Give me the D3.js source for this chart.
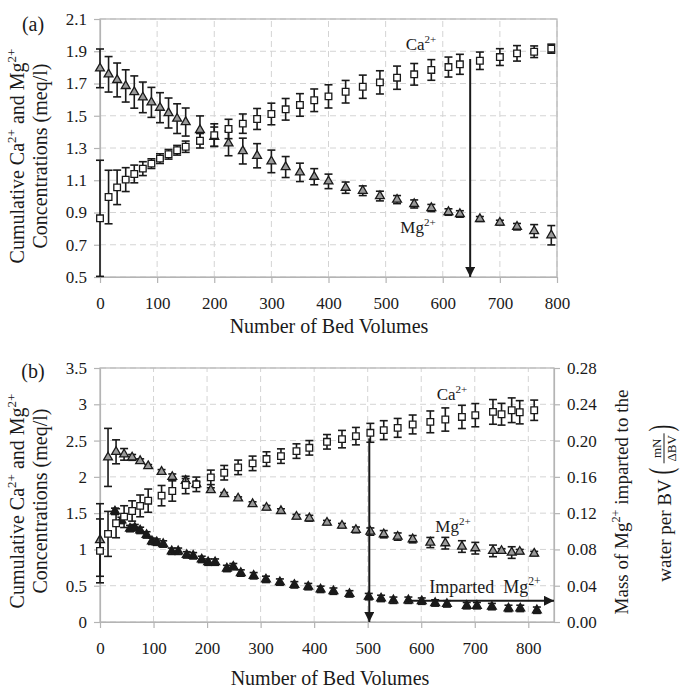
<!DOCTYPE html>
<html><head><meta charset="utf-8">
<script src="https://cdn.jsdelivr.net/npm/d3@7"></script>
<style>body{margin:0;background:#fff} svg, svg text{font-family:"Liberation Serif","Tinos","Times New Roman","DejaVu Serif",serif !important}</style>
</head><body><svg id="c" width="682" height="690"></svg>
<script>
// ---------- Panel (a) data ----------
const bvA = [0,15,30,45,60,75,90,105,120,135,150,175,200,225,250,275,300,325,350,375,400,430,460,490,520,550,580,610,630,665,700,730,760,790];
const caA = [0.864,0.996,1.056,1.104,1.139,1.172,1.203,1.234,1.261,1.286,1.308,1.345,1.38,1.418,1.451,1.48,1.511,1.54,1.567,1.596,1.62,1.649,1.68,1.707,1.736,1.757,1.784,1.802,1.819,1.841,1.864,1.887,1.897,1.916];
const caErrA = [0.36,0.166,0.107,0.074,0.055,0.043,0.03,0.03,0.03,0.03,0.035,0.045,0.07,0.06,0.06,0.065,0.067,0.067,0.07,0.07,0.072,0.07,0.072,0.072,0.072,0.067,0.064,0.062,0.062,0.054,0.052,0.048,0.036,0.028];
const mgA = [1.794,1.757,1.722,1.685,1.647,1.614,1.583,1.55,1.517,1.482,1.461,1.412,1.37,1.329,1.281,1.252,1.217,1.182,1.149,1.122,1.093,1.054,1.035,1.002,0.98,0.953,0.928,0.903,0.891,0.86,0.837,0.812,0.785,0.759];
const mgErrA = [0.12,0.11,0.105,0.1,0.1,0.095,0.093,0.093,0.093,0.092,0.087,0.087,0.06,0.077,0.08,0.075,0.07,0.065,0.057,0.05,0.045,0.035,0.03,0.03,0.025,0.025,0.022,0.02,0.02,0.015,0.015,0.02,0.04,0.06];
const xTicksA = [0,100,200,300,400,500,600,700,800];
const yTicksA = [0.5,0.7,0.9,1.1,1.3,1.5,1.7,1.9,2.1];

// ---------- Panel (b) data ----------
const bvB = [0,15,30,45,60,75,90,115,135,160,180,207,232,258,285,311,338,367,391,424,452,478,505,530,556,584,617,645,676,701,734,750,769,784,811];
const caB = [0.98,1.214,1.361,1.452,1.53,1.6,1.672,1.741,1.805,1.888,1.897,1.993,2.057,2.131,2.186,2.245,2.286,2.355,2.4,2.483,2.52,2.561,2.607,2.644,2.675,2.722,2.758,2.79,2.826,2.85,2.895,2.863,2.918,2.89,2.918];
const caErrB = [0.44,0.31,0.2,0.15,0.14,0.15,0.16,0.14,0.14,0.12,0.1,0.1,0.1,0.1,0.1,0.1,0.1,0.1,0.1,0.1,0.12,0.12,0.13,0.13,0.13,0.13,0.15,0.16,0.16,0.16,0.17,0.15,0.17,0.16,0.14];
const mgB = [1.13,2.268,2.345,2.31,2.268,2.218,2.149,2.07,2.0,1.947,1.9,1.819,1.764,1.704,1.626,1.576,1.53,1.452,1.43,1.37,1.328,1.269,1.246,1.21,1.177,1.141,1.095,1.086,1.04,1.017,0.98,0.98,0.957,0.97,0.943];
const mgErrB = [0.5,0.4,0.165,0.08,0.04,0.03,0.02,0.03,0.04,0.03,0.03,0.03,0.02,0.02,0.03,0.03,0.03,0.03,0.04,0.03,0.03,0.04,0.05,0.05,0.05,0.05,0.07,0.08,0.08,0.08,0.08,0.03,0.08,0.03,0.03];
const bvImp = [28,40,56,65,75,87,97,106,118,134,146,162,174,190,202,215,237,249,263,287,310,336,363,389,412,436,466,502,525,548,576,601,626,648,685,704,732,763,785,816];
const impMg = [0.122,0.112,0.103,0.104,0.101,0.096,0.089,0.088,0.086,0.078,0.078,0.074,0.073,0.069,0.066,0.066,0.059,0.061,0.054,0.051,0.047,0.044,0.041,0.039,0.036,0.034,0.031,0.028,0.026,0.024,0.024,0.023,0.021,0.020,0.018,0.018,0.017,0.015,0.015,0.013];
const impErr = 0.0035;
const xTicksB = [0,100,200,300,400,500,600,700,800];
const yTicksB = [0,0.5,1,1.5,2,2.5,3,3.5];
const y2TicksB = [0,0.04,0.08,0.12,0.16,0.20,0.24,0.28];

const FONT = '"Liberation Serif","Tinos","Times New Roman","DejaVu Serif",serif';
const svg = d3.select("#c").attr("font-family", FONT);
const GRID = "#d4d4d4", AX = "#b4b4b4", INK = "#1a1a1a";

function rich(parent, x, y, parts, size, anchor, rot) {
  const t = parent.append("text").attr("x", x).attr("y", y).attr("font-family", FONT)
    .attr("font-size", size).attr("text-anchor", anchor || "middle").attr("fill", INK);
  if (rot) t.attr("transform", `rotate(${rot},${x},${y})`);
  let shifted = 0;
  parts.forEach(p => {
    const sup = typeof p !== "string";
    const s = t.append("tspan");
    const target = sup ? -size * 0.42 : 0;
    s.attr("dy", target - shifted);
    shifted = target;
    if (sup) s.attr("font-size", size * 0.65).text(p.sup); else s.text(p);
  });
  return t;
}

function styleAxis(a) {
  a.attr("font-family", FONT);
  a.select(".domain").attr("stroke", AX).attr("stroke-width", 1.2);
  a.selectAll(".tick line").attr("stroke", AX).attr("stroke-width", 1.2);
  a.selectAll("text").attr("font-size", 17).attr("fill", INK).attr("font-family", FONT);
}

function frame(g, x, y, xT, yT, yFmt) {
  const [x0, x1] = x.range(), [y0, y1] = y.range();
  g.append("g").selectAll("line").data(yT).join("line")
    .attr("x1", x0).attr("x2", x1).attr("y1", d => y(d)).attr("y2", d => y(d))
    .attr("stroke", GRID).attr("stroke-dasharray", "6,4");
  g.append("g").selectAll("line").data(xT.filter(d => d > 0)).join("line")
    .attr("x1", d => x(d)).attr("x2", d => x(d)).attr("y1", y0).attr("y2", y1)
    .attr("stroke", GRID).attr("stroke-dasharray", "6,4");
  g.append("rect").attr("x", x0).attr("y", y1).attr("width", x1 - x0).attr("height", y0 - y1)
    .attr("fill", "none").attr("stroke", AX).attr("stroke-width", 1.2);
  styleAxis(g.append("g").attr("transform", `translate(0,${y0})`)
    .call(d3.axisBottom(x).tickValues(xT).tickSize(6).tickSizeOuter(0).tickPadding(14).tickFormat(d3.format("d"))));
  styleAxis(g.append("g").attr("transform", `translate(${x0},0)`)
    .call(d3.axisLeft(y).tickValues(yT).tickSize(6).tickSizeOuter(0).tickPadding(7).tickFormat(yFmt)));
}

function series(g, x, y, xs, vs, es, shape, fill, size) {
  const data = xs.map((d, i) => ({ x: d, v: vs[i], e: es[i] }));
  const cw = 4;
  const eb = g.append("g").attr("stroke", INK).attr("stroke-width", 1.6);
  data.forEach(d => {
    const px = x(d.x), yt = y(d.v + d.e), yb = y(d.v - d.e);
    eb.append("line").attr("x1", px).attr("x2", px).attr("y1", yt).attr("y2", yb);
    eb.append("line").attr("x1", px - cw).attr("x2", px + cw).attr("y1", yt).attr("y2", yt);
    eb.append("line").attr("x1", px - cw).attr("x2", px + cw).attr("y1", yb).attr("y2", yb);
  });
  g.append("g").selectAll("path").data(data).join("path")
    .attr("d", d3.symbol().type(shape).size(size))
    .attr("transform", d => `translate(${x(d.x)},${y(d.v)})`)
    .attr("fill", fill).attr("stroke", INK).attr("stroke-width", 1.3);
}

svg.append("defs").append("marker").attr("id", "ah").attr("viewBox", "0 0 10 10")
  .attr("refX", 10).attr("refY", 5).attr("markerWidth", 10).attr("markerHeight", 10)
  .attr("markerUnits", "userSpaceOnUse").attr("orient", "auto")
  .append("path").attr("d", "M0,0 L10,5 L0,10 Z").attr("fill", INK);

function plainText(g, x, y, s, size) {
  return g.append("text").attr("x", x).attr("y", y).attr("font-size", size).attr("font-family", FONT)
    .attr("text-anchor", "middle").attr("fill", INK).text(s);
}

// ---------- Panel (a) ----------
const xA = d3.scaleLinear().domain([0, 800]).range([100, 557]);
const yA = d3.scaleLinear().domain([0.5, 2.1]).range([277, 19]);
const gA = svg.append("g");
frame(gA, xA, yA, xTicksA, yTicksA, d3.format(".1f"));
series(gA, xA, yA, bvA, mgA, mgErrA, d3.symbolTriangle, "#9a9a9a", 34);
series(gA, xA, yA, bvA, caA, caErrA, d3.symbolSquare, "#fff", 44);
gA.append("line").attr("x1", xA(648)).attr("x2", xA(648)).attr("y1", yA(1.852)).attr("y2", yA(0.5))
  .attr("stroke", INK).attr("stroke-width", 2).attr("marker-end", "url(#ah)");
rich(gA, 421, 50, ["Ca", { sup: "2+" }], 17);
rich(gA, 418, 233, ["Mg", { sup: "2+" }], 17);
plainText(gA, 33, 31, "(a)", 20);
rich(gA, 24, 156, ["Cumulative Ca", { sup: "2+" }, " and Mg", { sup: "2+" }], 20, "middle", -90);
rich(gA, 47, 156, ["Concentrations (meq/l)"], 20, "middle", -90);
plainText(gA, 329, 333, "Number of Bed Volumes", 20);

// ---------- Panel (b) ----------
const xB = d3.scaleLinear().domain([0, 848]).range([100, 554]);
const yB = d3.scaleLinear().domain([0, 3.5]).range([622, 368]);
const y2B = d3.scaleLinear().domain([0, 0.28]).range([622, 368]);
const gB = svg.append("g");
frame(gB, xB, yB, xTicksB, yTicksB, d3.format(""));
styleAxis(gB.append("g").attr("transform", "translate(554,0)")
  .call(d3.axisRight(y2B).tickValues(y2TicksB).tickSize(6).tickSizeOuter(0).tickPadding(7).tickFormat(d3.format(".2f"))));

series(gB, xB, y2B, bvImp, impMg, bvImp.map(() => impErr), d3.symbolTriangle, INK, 34);
series(gB, xB, yB, bvB, mgB, mgErrB, d3.symbolTriangle, "#9a9a9a", 34);
series(gB, xB, yB, bvB, caB, caErrB, d3.symbolSquare, "#fff", 44);
gB.append("line").attr("x1", xB(503)).attr("x2", xB(503)).attr("y1", yB(2.53)).attr("y2", yB(0))
  .attr("stroke", INK).attr("stroke-width", 2).attr("marker-end", "url(#ah)");
gB.append("line").attr("x1", xB(576)).attr("x2", xB(848)).attr("y1", y2B(0.0234)).attr("y2", y2B(0.0234))
  .attr("stroke", INK).attr("stroke-width", 2).attr("marker-end", "url(#ah)");
rich(gB, 452, 400, ["Ca", { sup: "2+" }], 17);
rich(gB, 453, 532, ["Mg", { sup: "2+" }], 17);
rich(gB, 485, 593, ["Imparted\u00a0\u00a0Mg", { sup: "2+" }], 18);
plainText(gB, 33, 378, "(b)", 20);
rich(gB, 24, 501, ["Cumulative Ca", { sup: "2+" }, " and Mg", { sup: "2+" }], 20, "middle", -90);
rich(gB, 47, 501, ["Concentrations (meq/l)"], 20, "middle", -90);
plainText(gB, 330, 685, "Number of Bed Volumes", 20);

// right axis title
rich(gB, 628, 502, ["Mass of Mg", { sup: "2+" }, " imparted to the"], 19, "middle", -90);
const rt = gB.append("g").attr("transform", "translate(664,502) rotate(-90)");
const l2 = rt.append("text").attr("x", 0).attr("y", 7).attr("font-size", 19).attr("font-family", FONT).attr("fill", INK).text("water per BV");
const w2 = l2.node().getComputedTextLength();
const fracW = 30, parW = 9, gap = 5;
const total = w2 + gap + parW * 2 + fracW + 4;
const sx = -total / 2;
l2.attr("x", sx);
const px0 = sx + w2 + gap;
rt.append("text").attr("x", 0).attr("y", 0).attr("font-size", 19).attr("font-family", FONT).attr("fill", INK)
  .attr("transform", `translate(${px0},8) scale(1,1.8)`).text("(");
rt.append("text").attr("x", px0 + parW + 2 + fracW / 2).attr("y", -3).attr("font-size", 13).attr("font-family", FONT).attr("text-anchor", "middle").attr("fill", INK).text("mN");
rt.append("line").attr("x1", px0 + parW + 2).attr("x2", px0 + parW + 2 + fracW).attr("y1", 0).attr("y2", 0).attr("stroke", INK).attr("stroke-width", 1);
rt.append("text").attr("x", px0 + parW + 2 + fracW / 2).attr("y", 12).attr("font-size", 13).attr("font-family", FONT).attr("text-anchor", "middle").attr("fill", INK).text("ΔBV");
rt.append("text").attr("x", 0).attr("y", 0).attr("font-size", 19).attr("font-family", FONT).attr("fill", INK)
  .attr("transform", `translate(${px0 + parW + 4 + fracW},8) scale(1,1.8)`).text(")");
</script></body></html>
